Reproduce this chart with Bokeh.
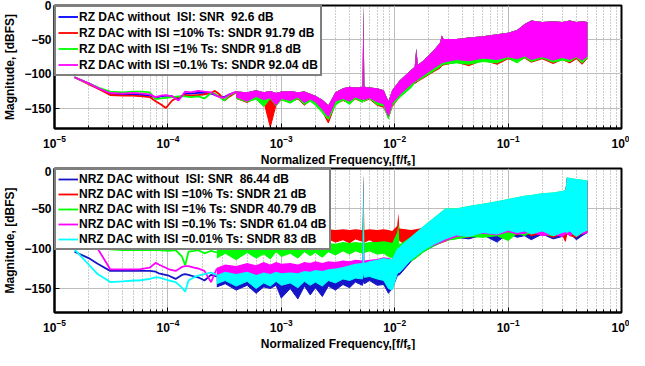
from bokeh.plotting import figure
from bokeh.models import Legend, LegendItem, FixedTicker, Range1d, Title
from bokeh.layouts import column
from bokeh.embed import file_html
from bokeh.resources import INLINE

# ---------------- axes ----------------
x_ticks = [1e-5, 1e-4, 1e-3, 1e-2, 1e-1, 1.0]
x_minor = [m * 10.0 ** e for e in range(-5, 0) for m in range(2, 10)]
y_ticks = [-150, -100, -50, 0]
x_title = "Normalized Frequency,[f/fₛ]"
y_title = "Magnitude, [dBFS]"

# ---------------- top panel (RZ DAC) ----------------
top_labels = [
    "RZ DAC without  ISI: SNR  92.6 dB",
    "RZ DAC with ISI =10% Ts: SNDR 91.79 dB",
    "RZ DAC with ISI =1% Ts: SNDR 91.8 dB",
    "RZ DAC with ISI =0.1% Ts: SNDR 92.04 dB",
]
top_colors = ["#0000ff", "#ff0000", "#00ff00", "#ff00ff"]

top_lf = [1.5e-5, 2e-5, 2.5e-5, 3.1e-5, 4e-5, 4.9e-5, 6e-5, 6.9e-5, 7.8e-5, 8.7e-5, 9.6e-5,
          1.09e-4, 1.24e-4, 1.42e-4, 1.6e-4, 1.85e-4, 2.1e-4, 2.4e-4, 2.6e-4, 2.85e-4, 3.14e-4,
          3.5e-4, 4e-4]
top_blue_lf = [-105, -114, -122, -129, -130, -130, -131, -132, -135, -133, -132, -133, -136, -129,
               -129, -128, -128, -129, -131, -133, -134, -130, -127]
top_red_lf = [-105, -115, -123, -131, -132, -132, -133, -134, -140, -145, -150, -139, -134, -131,
              -132, -131, -130, -128, -125, -130, -139, -133, -127]
top_green_lf = [-105, -114, -121, -126, -127, -126, -126, -127, -137, -136, -135, -134, -133, -133,
                -134, -133, -136, -128, -129, -134, -139, -131, -127]
top_mag_lf = [-105, -114, -122, -128, -129, -128, -129, -130, -134, -132, -131, -133, -139, -126,
              -127, -125, -126, -127, -131, -134, -135, -130, -126]

top_bf = [4e-4, 5e-4, 6e-4, 7e-4, 8e-4, 9e-4, 1e-3, 1.2e-3, 1.4e-3, 1.6e-3, 1.8e-3, 2e-3, 2.3e-3,
          2.6e-3, 3e-3, 3.5e-3, 4e-3, 4.5e-3, 5.2e-3, 5.3e-3, 5.4e-3, 6e-3, 7e-3, 8e-3, 8.8e-3,
          9.5e-3, 1.1e-2, 1.4e-2, 1.5e-2, 1.55e-2, 1.6e-2, 1.8e-2, 2.2e-2, 2.5e-2, 2.6e-2, 2.7e-2,
          3.5e-2, 4.5e-2, 6e-2, 8e-2, 0.1, 0.12, 0.14, 0.16, 0.2, 0.25, 0.3, 0.35, 0.4, 0.45, 0.5]
top_upper = [-126, -127, -124, -127, -125, -128, -126, -125, -127, -126, -129, -132, -138, -146,
             -127, -121, -119, -120, -119, 0, -119, -120, -121, -124, -140, -124, -110, -94, -90,
             -63, -87, -80, -66, -55, -44, -49, -49, -47, -45, -42, -40, -36, -27, -22, -24, -23,
             -24, -22, -24, -23, -24]
top_mag_lo = [-134, -140, -133, -138, -135, -146, -136, -139, -134, -142, -137, -141, -152, -163,
              -140, -136, -140, -134, -138, -136, -138, -135, -141, -144, -162, -143, -131, -115,
              -111, -110, -108, -102, -92, -86, -84, -83, -79, -81, -77, -79, -75, -78, -74, -79,
              -75, -80, -76, -79, -75, -80, -74]
top_red_lo = [-136, -142, -135, -140, -178, -145, -138, -141, -137, -146, -139, -144, -155, -172,
              -144, -139, -143, -137, -141, -139, -140, -137, -146, -149, -164, -148, -134, -119,
              -114, -113, -111, -106, -97, -92, -88, -87, -83, -88, -80, -86, -78, -82, -77, -83,
              -78, -85, -79, -84, -78, -86, -77]
top_green_lo = [-136, -141, -137, -148, -136, -147, -138, -143, -136, -145, -140, -146, -157, -167,
                -146, -138, -145, -136, -142, -138, -140, -136, -145, -147, -166, -146, -135, -120,
                -113, -111, -110, -105, -96, -90, -87, -86, -84, -86, -82, -84, -77, -84, -76, -82,
                -77, -83, -80, -82, -76, -84, -76]
top_blue_lo = top_mag_lo

# ---------------- bottom panel (NRZ DAC) ----------------
bot_labels = [
    "NRZ DAC without  ISI: SNR  86.44 dB",
    "NRZ DAC with ISI =10% Ts: SNDR 21 dB",
    "NRZ DAC with ISI =1% Ts: SNDR 40.79 dB",
    "NRZ DAC with ISI =0.1% Ts: SNDR 61.04 dB",
    "NRZ DAC with ISI =0.01% Ts: SNDR 83 dB",
]
bot_colors = ["#1414c8", "#ff0000", "#00ff00", "#ff00ff", "#00ffff"]

bot_lf = [1.5e-5, 2e-5, 2.4e-5, 3.1e-5, 4e-5, 5e-5, 5.6e-5, 6.9e-5, 7.8e-5, 8.3e-5, 1.02e-4,
          1.17e-4, 1.33e-4, 1.42e-4, 1.52e-4, 1.7e-4, 1.85e-4, 2.1e-4, 2.4e-4, 2.7e-4]
bot_blue_lf = [-104, -112, -119, -128, -128, -128, -128, -128, -129, -131, -134, -138, -133, -132,
               -133, -135, -136, -140, -133, -135]
bot_red_lf = [-80, -84, -86, -88, -86, -87, -85, -86, -88, -86, -87, -85, -88, -86, -87, -85, -86,
              -88, -84, -86]
bot_green_lf = [-90, -95, -98, -101, -102, -102, -102, -102, -102, -102, -103, -102, -110, -121,
                -104, -103, -102, -106, -103, -105]
bot_mag_lf = [-85, -93, -100, -126, -126, -126, -126, -124, -118, -120, -126, -128, -123, -122,
              -122, -124, -125, -128, -142, -125]
bot_cyan_lf = [-101, -120, -132, -142, -141, -140, -140, -138, -136, -136, -140, -142, -149, -154,
               -140, -136, -134, -132, -130, -133]

bot_bf = [2.7e-4, 3.2e-4, 4e-4, 5e-4, 6e-4, 7e-4, 8e-4, 9e-4, 1e-3, 1.2e-3, 1.4e-3, 1.6e-3, 1.8e-3,
          2e-3, 2.3e-3, 2.6e-3, 3e-3, 3.5e-3, 4e-3, 4.5e-3, 5.2e-3, 5.3e-3, 5.4e-3, 6e-3, 7e-3,
          8e-3, 8.8e-3, 9.5e-3, 1.05e-2, 1.08e-2, 1.1e-2, 1.4e-2, 1.8e-2, 2.2e-2, 2.8e-2, 3.5e-2,
          4.5e-2, 6e-2, 8e-2, 0.1, 0.12, 0.14, 0.16, 0.2, 0.25, 0.3, 0.32, 0.33, 0.35, 0.4, 0.45, 0.5]
bot_blue_up = [-135, -132, -134, -131, -135, -132, -134, -131, -133, -132, -133, -130, -131, -129,
               -130, -128, -127, -125, -123, -121, -120, -8, -120, -118, -116, -114, -115, -115,
               -102, -101, -100, -87, -73, -63, -51, -51, -48, -45, -42, -39, -37, -35, -34, -32,
               -31, -29, -28, -12, -13, -14, -15, -16]
bot_blue_lo = [-148, -144, -152, -146, -156, -148, -150, -146, -162, -150, -163, -147, -158, -149,
               -160, -147, -152, -145, -149, -142, -146, -140, -144, -140, -146, -145, -156, -150,
               -135, -133, -133, -116, -104, -97, -90, -86, -88, -83, -92, -81, -86, -84, -89, -82,
               -88, -85, -84, -82, -81, -89, -84, -80]
bot_red_up = [-80, -79, -80, -78, -80, -77, -79, -77, -78, -77, -79, -76, -78, -77, -78, -76, -77,
              -76, -77, -76, -77, -8, -77, -76, -77, -76, -77, -78, -72, -56, -75, -77, -74, -63,
              -51, -51, -48, -45, -42, -39, -37, -35, -34, -32, -31, -29, -28, -12, -13, -14, -15,
              -16]
bot_red_lo = [-95, -90, -97, -89, -102, -92, -96, -88, -94, -90, -96, -88, -93, -90, -95, -88, -92,
              -89, -93, -88, -91, -90, -92, -89, -94, -92, -95, -96, -90, -88, -90, -100, -103, -96,
              -91, -85, -86, -82, -84, -79, -83, -80, -84, -81, -86, -82, -91, -81, -84, -86, -81,
              -79]
bot_green_up = [-100, -98, -99, -97, -99, -96, -98, -96, -97, -96, -97, -95, -96, -94, -95, -93,
                -94, -92, -93, -92, -93, -8, -93, -92, -92, -91, -92, -93, -80, -69, -95, -85, -72,
                -62, -50, -50, -47, -44, -41, -38, -36, -34, -33, -31, -30, -28, -27, -11, -12, -13,
                -14, -15]
bot_green_lo = [-112, -106, -114, -105, -112, -107, -113, -104, -110, -106, -112, -104, -109, -105,
                -111, -104, -108, -103, -107, -103, -106, -104, -105, -103, -107, -106, -110, -112,
                -108, -107, -104, -116, -104, -97, -90, -88, -85, -86, -84, -90, -81, -84, -79, -82,
                -84, -81, -82, -79, -81, -84, -80, -78]
bot_mag_up = [-124, -120, -122, -118, -121, -117, -120, -117, -119, -118, -120, -117, -118, -116,
              -118, -116, -117, -115, -116, -114, -115, -8, -115, -114, -113, -111, -112, -113,
              -101, -100, -99, -86, -73, -63, -51, -51, -48, -45, -42, -39, -37, -35, -34, -32,
              -31, -29, -28, -12, -13, -14, -15, -16]
bot_mag_lo = [-140, -135, -138, -130, -142, -133, -137, -130, -135, -132, -138, -130, -134, -131,
              -137, -130, -133, -130, -134, -129, -132, -129, -131, -128, -133, -132, -140, -138,
              -131, -130, -130, -113, -100, -96, -90, -85, -83, -81, -83, -79, -82, -81, -79, -84,
              -82, -85, -82, -81, -84, -79, -82, -80]
bot_cyan_up = [-133, -129, -132, -129, -133, -130, -132, -129, -131, -130, -131, -128, -129, -127,
               -128, -126, -125, -123, -121, -119, -118, -8, -118, -116, -114, -112, -113, -113,
               -100, -99, -98, -85, -72, -62, -50, -50, -47, -44, -41, -38, -36, -34, -33, -31,
               -30, -28, -27, -11, -12, -13, -14, -15]
bot_cyan_lo = [-144, -140, -147, -141, -150, -143, -147, -141, -146, -143, -149, -141, -146, -142,
               -147, -140, -143, -138, -140, -137, -138, -130, -136, -135, -138, -140, -150, -152,
               -132, -130, -130, -114, -102, -95, -88, -83, -85, -80, -82, -77, -80, -78, -82, -78,
               -84, -80, -79, -80, -78, -85, -80, -77]

FONT = "Liberation Sans"


def make_panel(height, border_top, border_bottom, lf, lf_series, bf, uppers, lowers, colors,
               labels, label_h):
    p = figure(width=629, height=height, x_axis_type="log",
               x_range=Range1d(1e-5, 1.0), y_range=Range1d(-180, 0),
               output_backend="svg", toolbar_location=None,
               min_border_left=45, min_border_right=8,
               min_border_top=border_top, min_border_bottom=border_bottom)
    p.background_fill_color = "white"
    p.outline_line_color = "black"
    p.outline_line_width = 2

    p.xaxis.ticker = FixedTicker(ticks=x_ticks, minor_ticks=x_minor)
    p.yaxis.ticker = FixedTicker(ticks=y_ticks)
    for ax in (p.xaxis[0], p.yaxis[0]):
        ax.axis_line_color = "black"
        ax.axis_line_width = 2
        ax.major_tick_in = 5
        ax.major_tick_out = 0
        ax.minor_tick_in = 3
        ax.minor_tick_out = 0
        ax.major_tick_line_color = "black"
        ax.minor_tick_line_color = "black"
        ax.major_label_text_font = FONT
        ax.major_label_text_font_style = "bold"
        ax.major_label_text_font_size = "12px"
        ax.major_label_text_color = "black"
        ax.major_label_text_line_height = 1.0
        ax.axis_label_text_font = FONT
        ax.axis_label_text_font_style = "bold"
        ax.axis_label_text_font_size = "12px"
        ax.axis_label_text_color = "black"
    p.yaxis.axis_label = y_title
    p.xaxis.major_label_standoff = 6
    p.yaxis.major_label_standoff = 3
    p.yaxis.axis_label_standoff = 4
    p.add_layout(Title(text=x_title, align="center", standoff=0, offset=0,
                       text_font=FONT, text_font_style="bold", text_font_size="12px",
                       text_color="black", text_line_height=1.0), "below")

    p.xgrid.grid_line_color = "#bdbdbd"
    p.xgrid.grid_line_width = 1
    p.xgrid.minor_grid_line_color = "#9a9a9a"
    p.xgrid.minor_grid_line_dash = "1 2"
    p.ygrid.grid_line_color = "#bdbdbd"
    p.ygrid.grid_line_width = 1

    items = []
    for vals, up, lo, col, lab in zip(lf_series, uppers, lowers, colors, labels):
        r = p.line(lf, vals, line_color=col, line_width=1.8)
        p.varea(x=bf, y1=lo, y2=up, fill_color=col, fill_alpha=1.0)
        p.line(bf, lo, line_color=col, line_width=1)
        items.append(LegendItem(label=lab, renderers=[r]))

    leg = Legend(items=items, location="top_left", margin=0, padding=2, spacing=1,
                 glyph_width=20, glyph_height=label_h, label_height=label_h, label_standoff=1,
                 label_text_font=FONT, label_text_font_style="bold",
                 label_text_font_size="12px", label_text_color="black",
                 border_line_color="black", border_line_width=2,
                 background_fill_color="white", background_fill_alpha=1.0)
    p.add_layout(leg)
    return p


p1 = make_panel(166, 5, 10, top_lf,
                [top_blue_lf, top_red_lf, top_green_lf, top_mag_lf],
                top_bf, [top_upper] * 4,
                [top_blue_lo, top_red_lo, top_green_lo, top_mag_lo],
                top_colors, top_labels, 15)
p2 = make_panel(184, 2, 10, bot_lf,
                [bot_blue_lf, bot_red_lf, bot_green_lf, bot_mag_lf, bot_cyan_lf],
                bot_bf, [bot_blue_up, bot_red_up, bot_green_up, bot_mag_up, bot_cyan_up],
                [bot_blue_lo, bot_red_lo, bot_green_lo, bot_mag_lo, bot_cyan_lo],
                bot_colors, bot_labels, 14)

layout = column(p1, p2, spacing=0)
open("out.html", "w").write(file_html(layout, INLINE))
